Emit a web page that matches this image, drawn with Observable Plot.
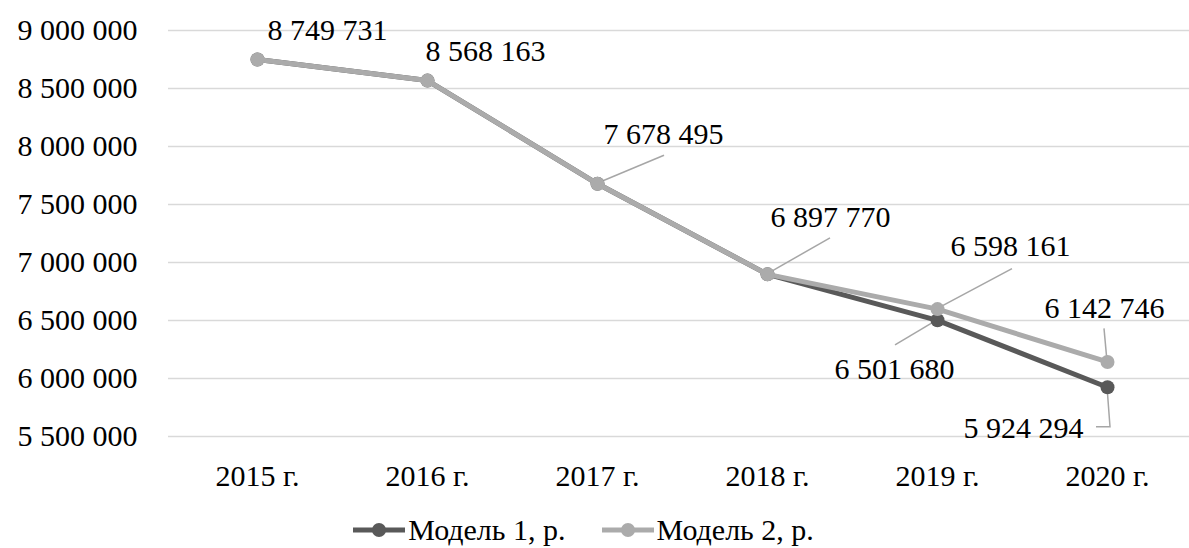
<!DOCTYPE html>
<html>
<head>
<meta charset="utf-8">
<script src="https://cdn.jsdelivr.net/npm/d3@7"></script>
<script src="https://cdn.jsdelivr.net/npm/@observablehq/plot@0.6"></script>
<style>
  html, body { margin: 0; padding: 0; background: #fff; }
  body { width: 1189px; height: 548px; overflow: hidden; font-family: "Liberation Serif", "Times New Roman", Times, "Tinos", "Noto Serif", "FreeSerif", "Nimbus Roman", "DejaVu Serif", Georgia, serif; }
  #legend { display: flex; justify-content: center; align-items: center; height: 48px; padding-top: 12px; padding-right: 22px; box-sizing: border-box; font-size: 30px; color: #000; }
  .item { display: flex; align-items: center; }
  .item + .item { margin-left: 36px; }
  .item svg { margin-right: 3px; }
</style>
</head>
<body>
<div id="chart"></div>
<div id="legend"></div>
<script>
// ---- data ----
const years = ["2015 г.", "2016 г.", "2017 г.", "2018 г.", "2019 г.", "2020 г."];
const model1 = [8749731, 8568163, 7678495, 6897770, 6501680, 5924294];
const model2 = [8749731, 8568163, 7678495, 6897770, 6598161, 6142746];
const seriesNames = ["Модель 1, р.", "Модель 2, р."];
const yTicks = [5500000, 6000000, 6500000, 7000000, 7500000, 8000000, 8500000, 9000000];

// ---- style / layout ----
const fontFamily = '"Liberation Serif", "Times New Roman", Times, "Tinos", "Noto Serif", "FreeSerif", "Nimbus Roman", "DejaVu Serif", Georgia, serif';
const colors = ["#595959", "#ababab"];
const leaderColor = "#a6a6a6";
// label placement (pixel offsets from the point; which series & index)
const labelLayout = [
  {s: 1, i: 0, dx: 70, dy: -20, leader: null},
  {s: 1, i: 1, dx: 58, dy: -20, leader: null},
  {s: 1, i: 2, dx: 66, dy: -40, leader: [[0, 0], [67, -28]]},
  {s: 1, i: 3, dx: 63, dy: -47, leader: [[0, 0], [63, -36]]},
  {s: 1, i: 4, dx: 73, dy: -53, leader: [[0, 0], [75, -40]]},
  {s: 1, i: 5, dx: -3, dy: -44, leader: [[0, 0], [-3, -33]]},
  {s: 0, i: 4, dx: -43, dy: 59, leader: [[0, 0], [-42, 25]]},
  {s: 0, i: 5, dx: -84, dy: 51, leader: [[0, 0], [3, 40], [-11, 40]]}
];

const locale = d3.formatLocale({decimal: ",", thousands: " ", grouping: [3], currency: ["", ""]});
const fmt = locale.format(",d");

const seriesValues = [model1, model2];
const rows = seriesValues.map((vals, s) => years.map((year, i) => ({year, value: vals[i], series: seriesNames[s]})));

const leaderMark = (index, scales) => {
  const g = d3.create("svg:g").attr("fill", "none").attr("stroke", leaderColor).attr("stroke-width", 1.5);
  for (const L of labelLayout) {
    if (!L.leader) continue;
    const x0 = scales.x(years[L.i]);
    const y0 = scales.y(seriesValues[L.s][L.i]);
    const d = L.leader.map((p, k) => (k ? "L" : "M") + (x0 + p[0]) + "," + (y0 + p[1])).join("");
    g.append("path").attr("d", d);
  }
  return g.node();
};

const labelMarks = labelLayout.map(L => Plot.text([{year: years[L.i], value: seriesValues[L.s][L.i]}], {
  x: "year", y: "value", text: d => fmt(d.value),
  dx: L.dx, dy: L.dy, textAnchor: "middle", lineAnchor: "bottom", fill: "#000", fontSize: 30
}));

const chart = Plot.plot({
  width: 1189,
  height: 500,
  marginTop: 30,
  marginBottom: 64,
  marginLeft: 168,
  marginRight: 0,
  style: {fontFamily, fontSize: "30px", color: "#000", background: "#fff"},
  x: {type: "point", domain: years, range: [255, 1108], padding: 0, label: null},
  y: {domain: [5500000, 9000000], label: null},
  marks: [
    Plot.ruleY(yTicks, {stroke: "#d9d9d9", strokeWidth: 1.5}),
    Plot.axisY({ticks: yTicks, tickSize: 0, tickPadding: 31, tickFormat: fmt, label: null, fontSize: 30}),
    Plot.axisX({tickSize: 0, tickPadding: 28, label: null, fontSize: 30}),
    leaderMark,
    Plot.line(rows[0], {x: "year", y: "value", stroke: colors[0], strokeWidth: 5}),
    Plot.dot(rows[0], {x: "year", y: "value", r: 7, fill: colors[0], stroke: "none"}),
    Plot.line(rows[1], {x: "year", y: "value", stroke: colors[1], strokeWidth: 5}),
    Plot.dot(rows[1], {x: "year", y: "value", r: 7, fill: colors[1], stroke: "none"}),
    ...labelMarks
  ]
});
chart.style.fontFamily = fontFamily;
document.getElementById("chart").appendChild(chart);

// legend
const legend = d3.select("#legend");
seriesNames.forEach((name, s) => {
  const item = legend.append("div").attr("class", "item");
  const sv = item.append("svg").attr("width", 52).attr("height", 16);
  sv.append("line").attr("x1", 0).attr("x2", 52).attr("y1", 8).attr("y2", 8).attr("stroke", colors[s]).attr("stroke-width", 5);
  sv.append("circle").attr("cx", 26).attr("cy", 8).attr("r", 7).attr("fill", colors[s]);
  item.append("span").text(name);
});
</script>
</body>
</html>
